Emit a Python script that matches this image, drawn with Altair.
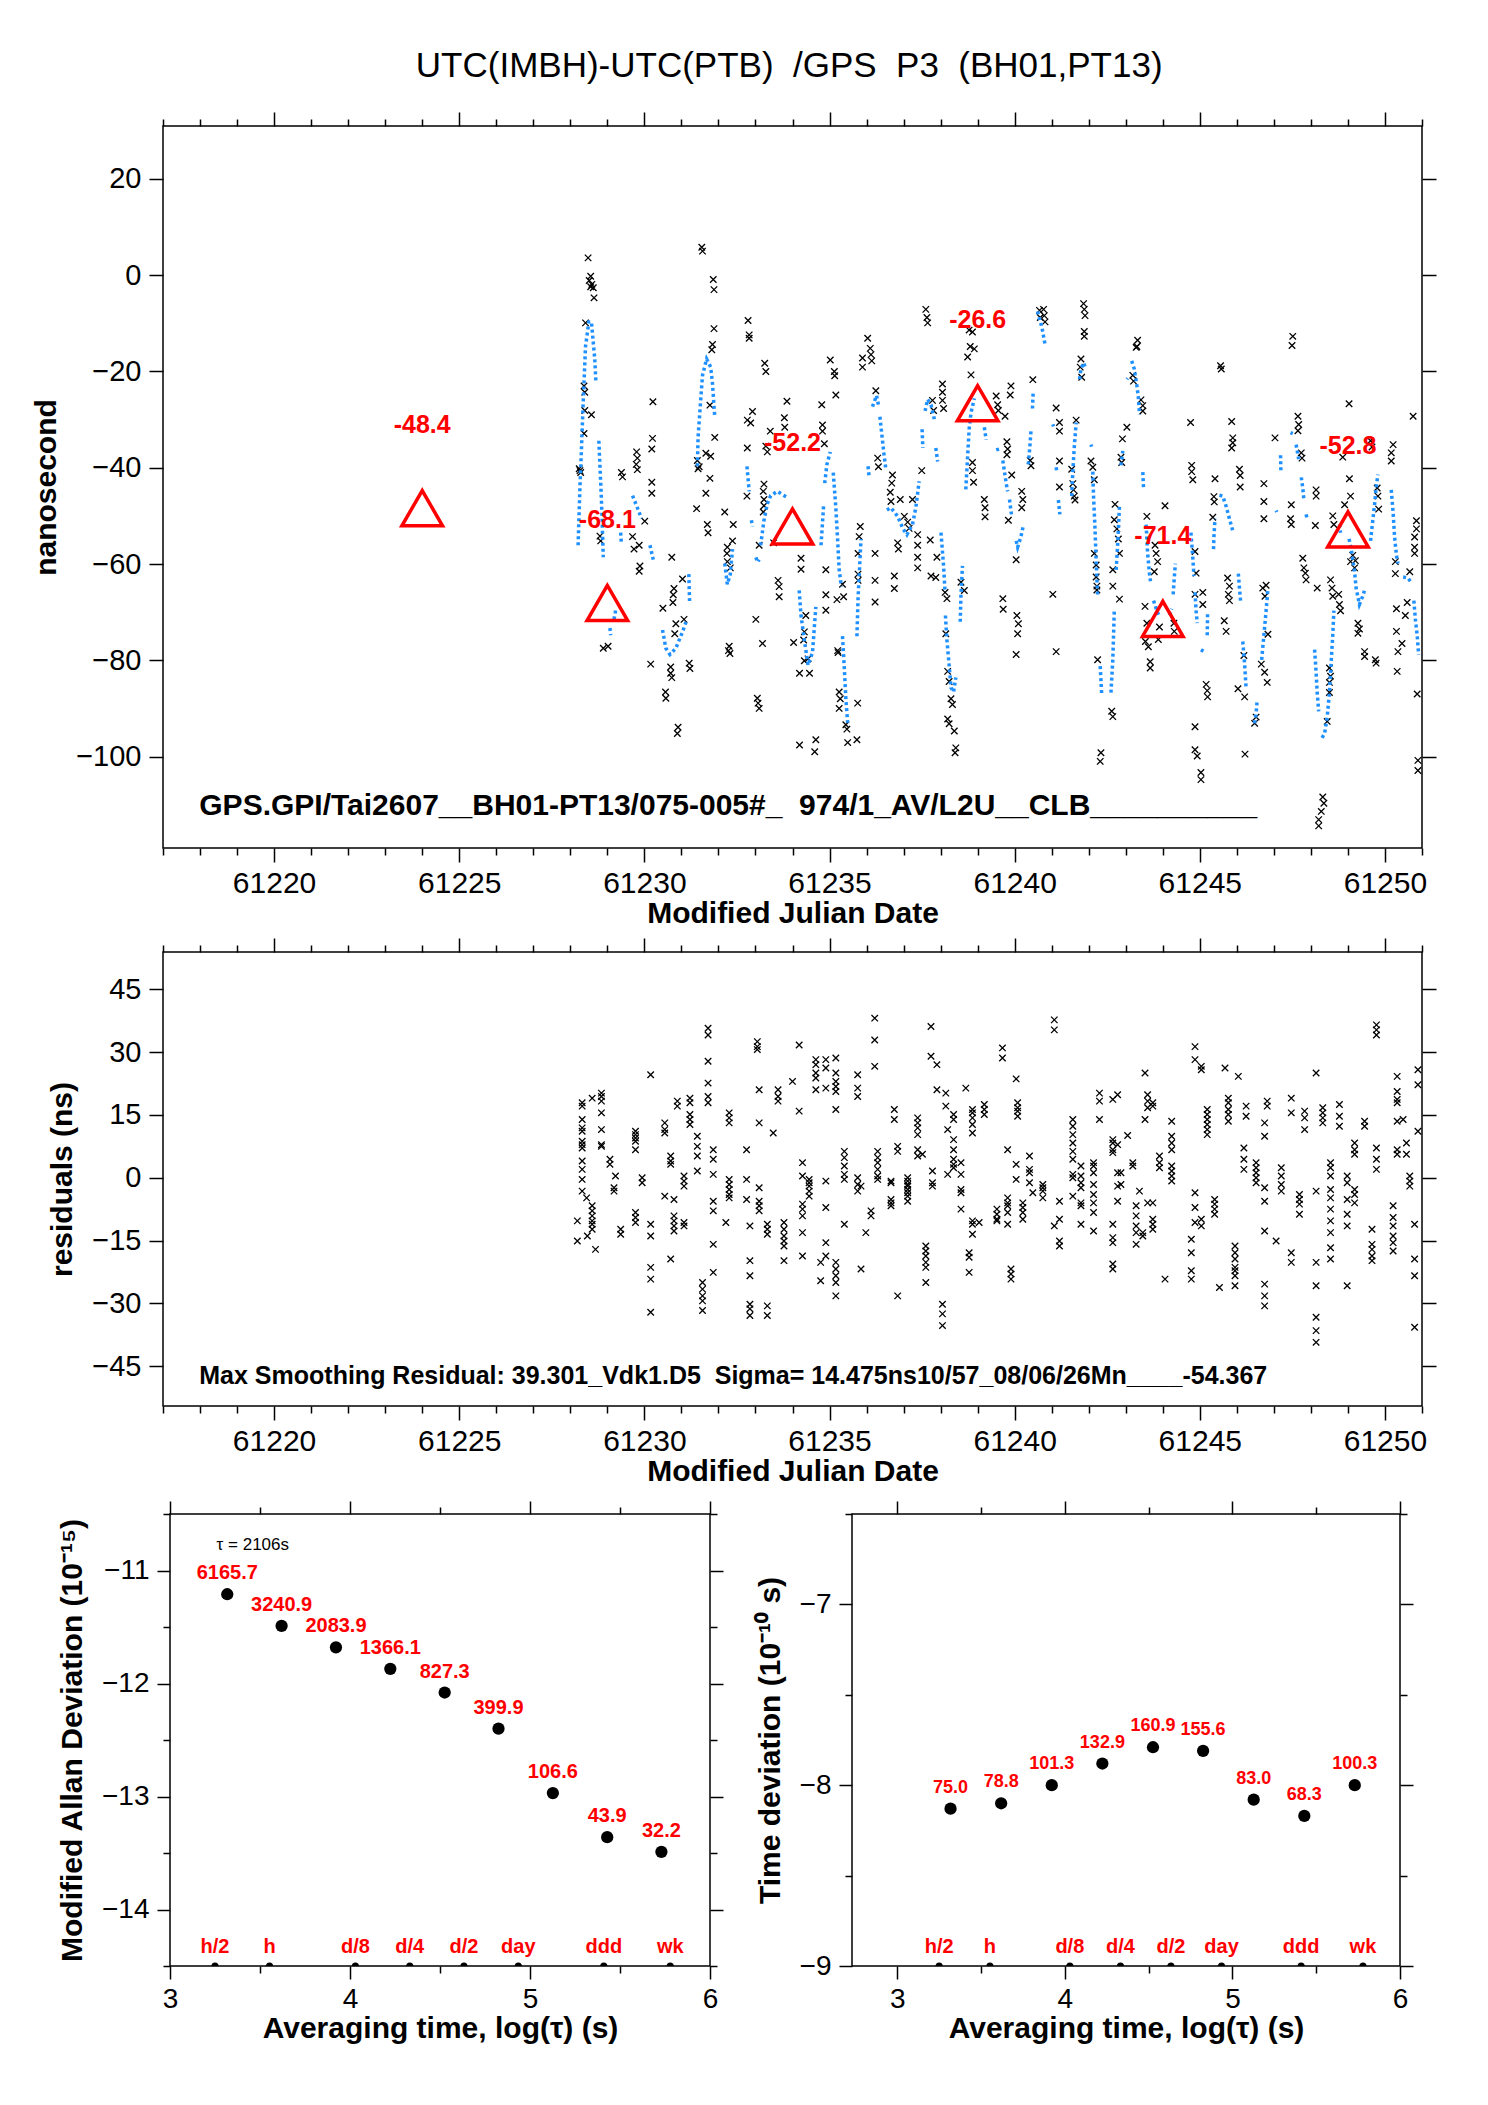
import altair as alt
import pandas as pd

FONT = "Liberation Sans, Arial, Helvetica, sans-serif"
XSHAPE = "M-1,-1L1,1M-1,1L1,-1"
RED = "#ff0000"
BLUE = "#1e90ff"

# ---------------- top panel: raw GPS differences (MJD, ns) ----------------
raw_pts = [
    (61228.48, 3.6), (61228.55, -0.2), (61228.51, -1.1), (61228.58, -1.9), (61228.62, -2.6),
    (61228.55, -2.4), (61228.64, -4.7), (61228.41, -9.9), (61228.37, -23.0), (61228.39, -24.3),
    (61228.39, -28.1), (61228.57, -29.0), (61228.37, -32.9), (61228.26, -40.6), (61228.28, -41.0),
    (61228.24, -40.2), (61228.80, -54.2), (61228.82, -55.2), (61228.89, -77.5), (61229.02, -77.1),
    (61229.38, -41.0), (61229.41, -41.9), (61229.79, -36.7), (61229.81, -38.0), (61229.78, -39.3),
    (61229.81, -40.4), (61229.68, -54.3), (61229.86, -56.1), (61229.72, -56.9), (61229.88, -60.4),
    (61229.86, -61.5), (61230.01, -51.1), (61230.23, -26.3), (61230.22, -33.9), (61230.20, -36.1),
    (61230.20, -43.0), (61230.20, -45.3), (61230.74, -58.6), (61230.50, -69.2), (61231.03, -63.1),
    (61230.80, -65.1), (61230.78, -66.4), (61230.77, -68.0), (61230.85, -72.4), (61230.82, -74.5),
    (61231.07, -71.5), (61230.71, -81.4), (61230.71, -82.7), (61230.74, -83.6), (61230.57, -86.6),
    (61230.58, -87.9), (61230.91, -93.9), (61230.89, -95.2), (61231.21, -80.6), (61231.23, -81.7),
    (61230.17, -80.8), (61231.55, 5.8), (61231.57, 5.0), (61231.86, -0.9), (61231.88, -3.0),
    (61231.88, -11.1), (61231.84, -14.4), (61231.82, -15.5), (61231.77, -27.0), (61231.90, -33.7),
    (61231.66, -37.0), (61231.79, -37.6), (61231.43, -38.5), (61231.48, -39.8), (61231.45, -40.2),
    (61231.77, -42.2), (61231.66, -45.3), (61231.41, -48.5), (61231.70, -51.8), (61231.72, -53.5),
    (61232.17, -49.2), (61232.40, -51.8), (61232.24, -56.5), (61232.23, -57.8), (61232.24, -59.5),
    (61232.32, -60.8), (61232.38, -55.2), (61232.29, -77.1), (61232.27, -78.0), (61232.31, -78.6),
    (61232.80, -9.4), (61232.83, -12.4), (61232.83, -13.1), (61232.92, -28.3), (61232.78, -30.1),
    (61232.87, -30.7), (61232.78, -35.9), (61233.25, -18.3), (61233.28, -20.0), (61233.85, -26.2),
    (61233.78, -29.6), (61233.79, -31.6), (61233.40, -32.4), (61233.28, -35.5), (61233.32, -36.7),
    (61232.77, -45.9), (61233.23, -43.4), (61233.21, -44.9), (61233.23, -46.6), (61233.23, -47.9),
    (61233.21, -49.2), (61233.10, -56.1), (61233.49, -55.6), (61234.23, -58.8), (61234.23, -61.1),
    (61233.61, -63.4), (61233.64, -64.7), (61233.64, -66.8), (61233.01, -71.5), (61233.19, -76.5),
    (61234.03, -76.3), (61233.05, -87.9), (61233.07, -88.9), (61233.10, -90.0), (61234.19, -97.6),
    (61234.36, -70.7), (61234.32, -74.1), (61234.30, -75.8), (61234.32, -80.1), (61234.42, -79.7),
    (61234.46, -82.7), (61234.19, -82.7),
    (61234.63, -96.5), (61234.60, -99.0), (61234.79, -26.9), (61234.81, -31.1), (61234.81, -32.4),
    (61234.86, -35.0), (61235.02, -17.6), (61235.13, -20.0), (61235.14, -20.9), (61235.17, -24.9),
    (61234.90, -61.2), (61234.90, -66.4), (61234.90, -69.6), (61235.20, -67.4), (61235.22, -78.0),
    (61235.23, -78.4), (61235.26, -86.6), (61235.29, -88.0), (61235.26, -90.0), (61235.35, -64.2),
    (61235.38, -66.8), (61235.44, -93.4), (61235.47, -94.3), (61235.49, -97.1), (61235.74, -96.5),
    (61235.76, -88.9), (61235.83, -52.2), (61235.80, -54.3), (61235.77, -57.8), (61235.77, -62.1),
    (61235.77, -63.4), (61236.03, -13.1), (61236.10, -15.2), (61236.12, -16.5), (61236.14, -17.8),
    (61235.89, -17.2), (61235.89, -19.1), (61236.25, -24.0), (61236.23, -57.8), (61236.23, -63.4),
    (61236.23, -67.9), (61236.30, -38.0), (61236.32, -39.8), (61236.70, -41.5), (61236.68, -43.2),
    (61236.64, -45.1), (61236.66, -47.0), (61236.91, -46.6), (61236.84, -55.6), (61236.86, -56.9),
    (61236.75, -62.5), (61236.75, -65.1), (61237.02, -50.1), (61237.11, -51.3), (61237.15, -52.6),
    (61237.24, -46.6), (61237.38, -53.9), (61237.38, -56.1), (61237.38, -58.6), (61237.38, -60.8),
    (61237.49, -40.6), (61237.60, -7.1), (61237.63, -8.8), (61237.65, -9.9), (61237.72, -55.0),
    (61237.74, -62.5), (61237.87, -62.8), (61237.90, -58.6), (61238.05, -22.6), (61238.05, -24.3),
    (61238.05, -26.0), (61238.08, -27.7), (61237.78, -26.0), (61237.81, -28.1), (61238.12, -65.9),
    (61238.17, -67.2), (61238.14, -74.5), (61238.19, -82.3), (61238.23, -84.4), (61238.28, -88.0),
    (61238.32, -89.2), (61238.19, -92.2), (61238.23, -93.2), (61238.37, -94.7), (61238.41, -98.2),
    (61238.39, -99.2), (61238.55, -63.8), (61238.64, -65.5), (61238.77, -11.4), (61238.86, -11.8),
    (61238.80, -14.8), (61238.91, -15.3), (61238.73, -17.0), (61238.82, -20.7), (61238.86, -38.9),
    (61238.86, -40.6), (61238.89, -43.0), (61239.18, -46.6), (61239.20, -48.3), (61239.20, -50.2),
    (61239.50, -25.1), (61239.54, -26.9), (61239.56, -28.1), (61239.74, -29.3), (61239.79, -34.6),
    (61239.81, -36.1), (61239.79, -37.3), (61239.90, -23.0), (61239.88, -24.9), (61239.92, -41.5),
    (61239.83, -50.9), (61240.04, -59.1), (61240.19, -44.9), (61240.22, -46.6), (61240.19, -48.3),
    (61239.68, -67.2), (61239.69, -69.4), (61240.06, -70.7), (61240.10, -72.4), (61240.08, -74.5),
    (61240.04, -78.8), (61240.49, -21.7), (61240.42, -38.5), (61240.44, -39.6), (61240.67, -7.3),
    (61240.69, -8.8),
    (61240.78, -7.1), (61240.80, -8.4), (61240.82, -9.7), (61241.86, -5.9), (61241.88, -7.1),
    (61241.90, -8.4), (61241.88, -11.7), (61241.88, -12.7), (61241.79, -17.4), (61241.77, -19.1),
    (61241.81, -21.2), (61243.32, -13.5), (61243.30, -14.8), (61243.28, -15.0), (61243.19, -20.8),
    (61243.21, -22.0), (61243.41, -25.9), (61243.46, -27.1), (61243.46, -28.2), (61245.56, -18.8),
    (61245.58, -19.5), (61241.12, -27.6), (61241.21, -30.6), (61241.21, -32.4), (61241.66, -30.1),
    (61243.03, -31.6), (61242.91, -34.0), (61242.87, -37.8), (61242.89, -38.9), (61244.75, -30.6),
    (61245.86, -30.4), (61245.89, -33.8), (61245.89, -34.8), (61245.86, -35.9), (61241.21, -38.6),
    (61241.21, -44.0), (61241.54, -40.3), (61241.57, -43.3), (61241.59, -44.6), (61241.61, -45.9),
    (61241.63, -46.7), (61242.06, -38.6), (61242.11, -39.9), (61242.15, -42.5), (61242.15, -57.8),
    (61242.20, -60.2), (61242.20, -62.7), (61242.22, -64.6), (61242.22, -65.4), (61244.78, -39.5),
    (61244.78, -40.8), (61244.81, -42.5), (61245.41, -42.3), (61245.38, -46.0), (61245.39, -47.1),
    (61245.35, -50.3), (61246.07, -40.3), (61246.09, -41.6), (61246.09, -44.0), (61246.73, -43.3),
    (61246.73, -47.0), (61246.73, -50.6), (61247.03, -33.8), (61244.06, -47.9), (61242.71, -47.6),
    (61242.69, -50.8), (61242.76, -52.7), (61242.80, -54.8), (61242.83, -57.8), (61242.65, -61.2),
    (61242.65, -64.6), (61242.83, -67.3), (61243.57, -50.1), (61243.79, -56.1), (61243.82, -57.8),
    (61243.86, -59.5), (61243.77, -61.6), (61241.03, -66.3), (61241.12, -78.2), (61242.24, -79.9),
    (61243.52, -68.8), (61243.57, -72.3), (61243.53, -76.1), (61243.61, -77.2), (61243.66, -80.3),
    (61243.66, -81.6), (61243.91, -73.1), (61243.88, -75.7), (61244.30, -72.3), (61244.31, -74.0),
    (61244.87, -57.4), (61244.90, -61.9), (61244.87, -66.3), (61245.08, -65.9), (61245.08, -68.4),
    (61245.75, -62.9), (61245.80, -64.6), (61245.77, -66.3), (61245.80, -67.6), (61245.66, -71.8),
    (61245.71, -74.0), (61246.70, -65.0), (61246.79, -64.4), (61246.76, -66.7), (61246.84, -74.6),
    (61246.66, -80.8), (61246.75, -82.5), (61246.82, -84.6), (61245.17, -85.0), (61245.20, -86.3),
    (61245.21, -87.6), (61246.03, -85.9), (61246.21, -87.6), (61246.22, -99.5), (61244.87, -93.8),
    (61244.87, -98.6), (61244.93, -99.9), (61245.03, -103.3), (61245.03, -104.8), (61242.33, -99.2),
    (61242.31, -101.0), (61242.62, -90.6), (61242.65, -91.7), (61246.52, -91.8), (61246.48, -93.1),
    (61246.19, -79.0),
    (61247.51, -12.7), (61247.49, -14.6), (61247.65, -29.3), (61247.67, -31.0), (61247.65, -32.3),
    (61247.74, -36.9), (61247.76, -38.0), (61247.47, -47.7), (61247.45, -50.6), (61247.47, -51.8),
    (61248.14, -44.6), (61248.14, -45.9), (61248.12, -52.0), (61247.78, -58.8), (61247.81, -60.8),
    (61247.85, -61.9), (61247.87, -63.3), (61248.17, -65.0), (61248.53, -63.3), (61248.57, -65.0),
    (61248.59, -66.7), (61248.75, -66.3), (61248.77, -68.4), (61248.80, -69.7), (61248.59, -50.0),
    (61248.62, -51.8), (61248.50, -81.6), (61248.53, -83.3), (61248.50, -84.6), (61248.50, -86.7),
    (61248.44, -92.7), (61248.32, -108.4), (61248.35, -109.7), (61248.28, -111.4), (61248.21, -113.1),
    (61248.21, -114.4), (61249.03, -26.7), (61248.86, -37.8), (61249.04, -42.3), (61249.07, -45.9),
    (61248.91, -47.7), (61249.13, -58.2), (61249.20, -59.3), (61249.07, -59.5), (61249.18, -60.8),
    (61249.27, -72.3), (61249.31, -73.5), (61249.27, -74.4), (61249.45, -78.2), (61249.45, -79.2),
    (61249.74, -79.9), (61249.76, -80.6), (61249.61, -34.4), (61249.65, -35.7), (61249.79, -44.2),
    (61249.81, -45.9), (61249.83, -48.6), (61250.22, -35.2), (61250.17, -36.9), (61250.17, -38.6),
    (61250.76, -29.3), (61250.85, -51.0), (61250.85, -52.7), (61250.80, -54.4), (61250.80, -56.5),
    (61250.80, -57.8), (61250.28, -59.5), (61250.28, -62.0), (61250.67, -61.6), (61250.60, -68.0),
    (61250.55, -70.7), (61250.31, -69.3), (61250.31, -74.0), (61250.46, -76.5), (61250.35, -78.2),
    (61250.33, -82.3), (61250.87, -87.0), (61250.89, -100.8), (61250.89, -102.9),
]

# smoothed curve pieces (blue dotted), read vertex by vertex
blue_segs = [
    [(61228.21, -56.1), (61228.26, -44.0), (61228.30, -36.3), (61228.35, -26.0), (61228.41, -14.8),
     (61228.50, -9.7), (61228.57, -9.7), (61228.62, -14.0), (61228.66, -17.4), (61228.69, -22.1)],
    [(61228.77, -34.4), (61228.84, -46.6), (61228.89, -58.6)],
    [(61229.36, -53.5), (61229.38, -55.9)],
    [(61229.07, -73.3), (61229.09, -74.8)],
    [(61229.18, -71.5), (61229.23, -69.4)],
    [(61229.68, -45.8), (61229.81, -48.3), (61229.92, -50.5)],
    [(61230.15, -56.1), (61230.24, -59.1)],
    [(61230.49, -73.7), (61230.58, -77.5), (61230.69, -78.8), (61230.85, -77.5), (61231.03, -74.1), (61231.14, -71.7)],
    [(61231.20, -62.1), (61231.22, -67.7)],
    [(61231.43, -39.7), (61231.45, -33.7), (61231.52, -26.0), (61231.57, -20.8), (61231.68, -17.4),
     (61231.79, -19.1), (61231.84, -22.6), (61231.90, -29.4)],
    [(61232.17, -59.9), (61232.24, -64.2), (61232.32, -62.1), (61232.38, -56.9)],
    [(61232.77, -39.7), (61232.83, -44.9)],
    [(61232.89, -50.9), (61232.92, -52.2)],
    [(61233.01, -58.6), (61233.06, -59.6), (61233.10, -59.1)],
    [(61233.14, -56.1), (61233.23, -50.9), (61233.32, -47.5), (61233.41, -45.8), (61233.59, -44.9), (61233.86, -46.2)],
    [(61234.18, -65.5), (61234.23, -70.7), (61234.32, -75.8), (61234.42, -81.0), (61234.54, -78.4), (61234.63, -68.9)],
    [(61234.77, -56.1), (61234.84, -47.9)],
    [(61234.87, -43.2), (61234.93, -39.3), (61235.02, -36.7)],
    [(61235.10, -41.0), (61235.17, -48.3), (61235.22, -55.2), (61235.26, -61.2), (61235.32, -64.7)],
    [(61235.35, -75.0), (61235.40, -81.8), (61235.44, -87.9), (61235.49, -93.0)],
    [(61235.74, -75.0), (61235.77, -67.2), (61235.83, -57.8), (61235.85, -54.8)],
    [(61236.04, -39.7), (61236.07, -41.9)],
    [(61236.16, -27.3), (61236.27, -25.0), (61236.32, -26.9)],
    [(61236.36, -29.4), (61236.41, -32.9), (61236.47, -37.2), (61236.52, -40.2)],
    [(61236.55, -48.8), (61236.66, -48.3), (61236.84, -50.1), (61236.98, -52.6), (61237.09, -53.9),
     (61237.24, -51.8), (61237.33, -48.3), (61237.42, -42.8)],
    [(61237.50, -32.0), (61237.52, -35.9)],
    [(61237.58, -28.2), (61237.65, -25.8), (61237.74, -26.9), (61237.83, -29.9)],
    [(61237.87, -35.9), (61237.92, -38.7)],
    [(61238.01, -53.5), (61238.08, -60.4), (61238.12, -65.9)],
    [(61238.13, -70.7), (61238.17, -75.8), (61238.23, -81.0), (61238.28, -85.7), (61238.35, -86.6), (61238.41, -83.6)],
    [(61238.53, -72.0), (61238.55, -66.4), (61238.59, -60.4)],
    [(61238.68, -44.5), (61238.73, -37.6), (61238.77, -32.0), (61238.82, -28.6), (61238.91, -25.6)],
    [(61239.18, -31.6), (61239.23, -34.2)],
    [(61239.50, -36.3), (61239.59, -36.1)],
    [(61239.68, -38.5), (61239.77, -43.2), (61239.81, -44.9)],
    [(61239.86, -46.6), (61239.92, -50.1)],
    [(61240.04, -55.2), (61240.08, -56.5), (61240.17, -54.3), (61240.24, -51.8)],
    [(61240.37, -39.3), (61240.42, -34.6), (61240.44, -32.4)],
    [(61240.48, -27.7), (61240.50, -24.3)],
    [(61240.62, -7.5), (61240.67, -9.0), (61240.74, -11.0), (61240.82, -14.4)],
    [(61241.75, -21.6), (61241.79, -19.5), (61241.86, -18.2), (61241.93, -19.5)],
    [(61243.16, -17.8), (61243.23, -19.5), (61243.30, -22.9), (61243.34, -25.4), (61243.37, -28.9)],
    [(61243.03, -21.6), (61243.05, -21.4)],
    [(61241.03, -31.0), (61241.05, -31.4)],
    [(61241.12, -39.9), (61241.14, -40.9)],
    [(61241.18, -46.7), (61241.22, -49.7)],
    [(61241.54, -45.9), (61241.57, -40.8), (61241.61, -35.7), (61241.66, -30.6)],
    [(61242.06, -35.2), (61242.08, -35.6)],
    [(61242.11, -40.8), (61242.13, -45.9), (61242.17, -52.7), (61242.20, -59.5), (61242.24, -66.7)],
    [(61242.87, -39.5), (61242.92, -36.5)],
    [(61242.74, -61.2), (61242.78, -56.1), (61242.80, -52.7), (61242.83, -48.0)],
    [(61242.60, -86.7), (61242.65, -79.9), (61242.67, -74.8), (61242.69, -69.7)],
    [(61242.31, -81.2), (61242.35, -87.1)],
    [(61243.46, -40.9), (61243.48, -44.2)],
    [(61243.55, -51.8), (61243.59, -57.8), (61243.64, -62.0), (61243.68, -64.2)],
    [(61243.75, -67.6), (61243.84, -69.7), (61243.91, -71.0)],
    [(61244.18, -70.6), (61244.24, -69.3)],
    [(61244.28, -66.3), (61244.31, -62.9), (61244.34, -59.9)],
    [(61244.76, -53.5), (61244.81, -58.6), (61244.84, -62.5)],
    [(61244.87, -65.9), (61244.90, -69.7), (61244.93, -72.3)],
    [(61245.20, -74.8), (61245.21, -70.1)],
    [(61245.03, -77.8), (61245.11, -78.2)],
    [(61245.37, -56.9), (61245.38, -54.4), (61245.41, -50.6)],
    [(61245.53, -45.7), (61245.62, -45.9), (61245.71, -48.0), (61245.80, -50.6), (61245.89, -53.1)],
    [(61246.04, -62.0), (61246.07, -65.0), (61246.10, -67.6)],
    [(61246.16, -76.1), (61246.21, -80.8), (61246.25, -85.9)],
    [(61246.67, -79.9), (61246.73, -74.8), (61246.79, -69.7), (61246.84, -65.0)],
    [(61246.48, -93.1), (61246.52, -91.0), (61246.55, -88.3)],
    [(61247.06, -48.9), (61247.08, -49.2)],
    [(61247.18, -37.4), (61247.19, -40.8)],
    [(61247.45, -32.7), (61247.51, -32.9)],
    [(61247.60, -35.2), (61247.67, -38.2)],
    [(61247.74, -42.0), (61247.78, -44.2), (61247.81, -46.6)],
    [(61247.87, -49.7), (61247.90, -50.6)],
    [(61248.10, -77.8), (61248.14, -82.5), (61248.17, -86.7), (61248.21, -90.6)],
    [(61248.30, -96.1), (61248.37, -95.2), (61248.44, -91.8), (61248.50, -86.7), (61248.55, -79.9),
     (61248.59, -74.8), (61248.62, -69.7)],
    [(61248.77, -51.8), (61248.80, -53.5)],
    [(61249.03, -54.8), (61249.09, -56.9), (61249.13, -59.1), (61249.18, -61.6), (61249.22, -65.0),
     (61249.31, -68.4), (61249.40, -66.7), (61249.45, -65.4)],
    [(61249.61, -55.2), (61249.67, -51.0), (61249.72, -47.6), (61249.76, -44.2), (61249.81, -41.4)],
    [(61250.17, -44.6), (61250.22, -49.3), (61250.26, -54.4), (61250.31, -58.2), (61250.35, -59.9)],
    [(61250.49, -62.7), (61250.62, -62.9), (61250.71, -63.9)],
    [(61250.78, -67.6), (61250.82, -71.4), (61250.87, -74.8), (61250.91, -78.9)],
]

tri_day = [61224, 61229, 61234, 61239, 61244, 61249]
tri_val = [-48.4, -68.1, -52.2, -26.6, -71.4, -52.8]
tri_lab = ["-48.4", "-68.1", "-52.2", "-26.6", "-71.4", "-52.8"]

top_note = "GPS.GPI/Tai2607__BH01-PT13/075-005#_\u00a0\u00a0974/1_AV/L2U__CLB__________"
res_note = "Max Smoothing Residual: 39.301_Vdk1.D5\u00a0\u00a0Sigma= 14.475ns10/57_08/06/26Mn____-54.367"

# ---------------- middle panel: residual columns (MJD, [ns ...]) ----------------
res_cols = [
    (61228.32, [17.9, 17.1, 13.9, 11.9, 11.1, 8.7, 7.9, 7.1, 4.0, 2.0, -0.4, -3.2]),
    (61228.19, [-10.3, -15.1]), (61228.44, [-4.8]), (61228.46, [-13.9]),
    (61228.59, [19.0, -6.7, -7.9, -9.1, -10.3, -11.1, -12.3]), (61228.68, [-17.1]),
    (61228.84, [20.2, 19.4, 18.3, 15.5, 11.5, 7.9, 7.5]), (61229.07, [4.4, 3.2]),
    (61229.22, [0.4]), (61229.18, [-2.4, -3.2]), (61229.36, [-12.3, -13.5]),
    (61229.76, [11.1, 10.3, 9.5, 8.7, 6.7, -8.3, -9.5, -10.7]), (61229.94, [0.0, -1.2]),
    (61230.17, [24.6, -11.1, -13.9, -21.4, -24.2, -32.1]), (61230.55, [13.1, 11.5, 10.7, -4.4]),
    (61230.71, [5.2, 4.0, 3.2, -19.4]), (61230.80, [-9.1, -10.3, -11.5, -12.7, -5.2]),
    (61230.89, [18.3, 17.1]), (61231.07, [0.4, -0.8, -2.0, -10.7, -11.5]),
    (61231.23, [19.0, 17.9, 15.1, 13.9, 12.7]), (61231.43, [9.9, 7.5, 5.2, 1.6]),
    (61231.57, [-25.0, -26.6, -28.2, -29.4, -31.7]), (61231.72, [35.7, 34.1, 27.8, 22.6, 19.4, 17.9]),
    (61231.86, [6.7, 4.4, 0.8, -5.6, -7.9, -15.9, -22.6]), (61232.20, [-10.7]),
    (61232.29, [15.5, 14.3, 13.1, -0.4, -1.6, -2.8, -4.0, -4.8]), (61232.76, [6.7, -0.4, -5.2]),
    (61232.85, [-11.5, -19.8, -23.4, -30.2, -31.3, -32.9]), (61233.05, [32.5, 31.3, 30.6]),
    (61233.10, [13.1, 21.0, -2.4, -5.6, -6.7, -7.9]), (61233.32, [-11.1, -12.3, -13.5, -30.6, -32.9]),
    (61233.48, [10.7]), (61233.61, [21.0, 19.4, 18.3]),
    (61233.77, [-10.7, -12.3, -13.9, -15.1, -16.3, -19.8]), (61234.00, [23.0]), (61234.18, [31.7, 15.9]),
    (61234.27, [3.6, 0.4, -6.3, -7.5, -9.1, -13.1, -18.7]), (61234.45, [-0.4, -1.2, -2.0, -3.2, -4.4]),
    (61234.63, [28.2, 27.0, 25.0, 23.8, 21.0]), (61234.90, [28.2, 26.2, 21.4, -0.8, -7.1, -15.5, -18.7]),
    (61234.76, [-20.2, -24.6]),
    (61235.17, [28.6, 25.0, 23.0, 21.8, 20.6, 16.3, -20.2, -21.8, -23.4, -25.0, -28.2]),
    (61235.40, [6.3, 4.8, 2.8, 0.8, -0.4, -11.1]), (61235.76, [24.6, 21.4, 19.4, 0.0, -1.6, -3.2]),
    (61235.85, [-2.0, -21.8]), (61235.98, [-13.1]), (61236.12, [-9.1, -7.9]),
    (61236.22, [38.1, 32.9, 26.6]), (61236.30, [6.3, 4.8, 3.6, 2.0, 0.4, -0.4]),
    (61236.66, [-0.8, -1.2, -5.2, -6.0, -6.7]), (61236.75, [16.3, 13.9]), (61236.84, [7.5, 6.3, -28.2]),
    (61237.11, [0.0, -0.8, -1.6, -2.0, -2.8, -3.6, -4.4, -5.6]),
    (61237.38, [14.3, 13.1, 11.9, 10.3, 6.7, 5.2]), (61237.51, [5.6]),
    (61237.60, [-16.3, -17.5, -18.7, -20.2, -21.4, -25.0]), (61237.74, [36.1, 29.0]),
    (61237.78, [1.6, -1.2, -2.0]), (61237.90, [27.0, 21.0]), (61238.05, [-30.2, -32.5, -35.3]),
    (61238.14, [20.2, 17.1]), (61238.19, [11.5, 0.8]), (61238.35, [9.1, 6.7, 4.4, 3.2, 2.4, 15.1, 13.9]),
    (61238.55, [3.6, 0.8, -2.8, -3.6, -7.5]), (61238.68, [21.4]), (61238.77, [-17.9, -19.0, -22.6]),
    (61238.86, [16.3, 15.5, 14.3, 12.7, 10.7, -10.3, -11.1, -13.5]), (61239.04, [-10.7]),
    (61239.18, [17.5, 16.3, 15.1]), (61239.52, [-7.5, -8.7, -9.9, -10.3]), (61239.67, [31.0, 28.6]),
    (61239.81, [-4.8, -6.0, -6.7, -8.3, -11.1, 6.7]), (61239.90, [-21.8, -23.0, -24.2]),
    (61240.04, [23.6, 3.2, -0.4]), (61240.08, [17.9, 16.7, 15.9, 14.7]), (61240.22, [-6.0, -7.1, -8.3, -9.9]),
    (61240.40, [5.2, 2.0, 1.2, -1.2]), (61240.49, [-3.6]), (61240.76, [-1.6, -2.4, -3.2, -4.8]),
    (61241.07, [37.7, 35.3, -11.5]), (61241.21, [-5.6, -9.9, -15.1, -16.3]),
    (61241.57, [13.9, 12.3, 10.3, 8.3, 6.3, 4.4, 0.8, 0.0, -4.4]),
    (61241.79, [2.8, 0.4, -1.2, -2.4, -6.0, -6.7, -11.1]),
    (61242.13, [3.6, 2.8, 1.2, -1.6, -4.0, -6.0, -8.3, -12.7]), (61242.29, [20.2, 18.3, 13.9]),
    (61242.65, [18.7, 9.1, 8.3, 6.7, 6.0, -11.1, -14.3, -15.5, -20.6, -21.8]),
    (61242.78, [19.8, 7.9, 1.2, -2.0, -5.6]), (61242.87, [1.2, -1.6]), (61243.05, [10.1]),
    (61243.19, [3.6, 2.8]), (61243.28, [-6.7, -9.1, -11.5, -13.1, -15.9]), (61243.37, [-3.2]),
    (61243.46, [-13.1, -13.9]), (61243.52, [25.0, 13.9]), (61243.59, [19.8, 18.3, 16.7, -6.0]),
    (61243.73, [17.9, 17.1, -6.0, -9.9, -11.1, -12.3]), (61243.91, [5.2, 3.6, 2.4]), (61244.06, [-24.2]),
    (61244.24, [13.5, 9.9, 8.3, 6.7, 2.8, 1.6, 0.4, -0.8]), (61244.77, [-14.7, -17.9, -22.2, -24.2]),
    (61244.87, [31.3, 28.2, -3.6, -7.1, -10.7]), (61245.04, [26.6, 25.8, -11.5, -9.9]),
    (61245.20, [16.3, 15.1, 13.9, 12.7, 11.5, 10.3]), (61245.40, [-5.2, -6.3, -7.5, -8.7]),
    (61245.53, [-26.2]), (61245.68, [26.2]), (61245.77, [19.0, 17.9, 16.3, 15.1, 13.5]),
    (61245.95, [-16.3, -17.9, -19.4, -21.4, -22.2, -23.4, -25.8]), (61246.04, [24.2]),
    (61246.19, [7.1, 4.4, 2.0]), (61246.25, [17.1, 14.7]), (61246.52, [3.6, 2.4, 1.2, 0.0, -1.2]),
    (61246.75, [13.1, 9.9, -2.4, -5.6, -12.7, -25.4, -28.2, -30.6]), (61246.82, [18.3, 17.1]),
    (61247.06, [-15.1]), (61247.20, [2.4, 0.4, -1.6, -3.2]), (61247.47, [19.0, 15.5, -17.9, -20.2]),
    (61247.69, [-4.0, -5.2, -6.3, -8.7]), (61247.83, [15.9, 14.3, 11.5]),
    (61248.14, [25.0, -3.2, -20.2, -25.8, -33.3, -36.5, -39.3]), (61248.32, [16.7, 15.5, 14.3, 13.1]),
    (61248.53, [3.6, 2.4, 0.4, -2.8, -4.8, -7.5, -10.3, -13.1, -16.7, -19.4]),
    (61248.77, [17.5, 14.7, 12.3]), (61248.98, [0.4, -1.2, -5.2, -8.7, -11.5, -25.8]),
    (61249.18, [8.3, 6.7, 5.6, -2.8, -4.0, -6.0]), (61249.45, [13.5, 12.3]),
    (61249.65, [-12.3, -15.9, -17.1, -18.7, -19.8]), (61249.77, [36.5, 35.3, 34.1, 7.1, 4.4, 2.0]),
    (61250.22, [-6.7, -9.5, -11.5, -13.9, -15.5, -17.5]),
    (61250.33, [24.2, 20.6, 18.7, 17.9, 13.5, 6.7, 5.6]), (61250.49, [13.9]), (61250.58, [8.3, 5.6]),
    (61250.67, [0.4, -0.8, -2.0]), (61250.80, [-11.1, -19.4, -23.4, -35.7]), (61250.89, [25.8, 22.2, 11.1]),
]

# ---------------- bottom panels ----------------
tau_log = [3.318, 3.620, 3.922, 4.224, 4.526, 4.825, 5.127, 5.429, 5.730]
mdev_val = [-11.21, -11.49, -11.68, -11.87, -12.08, -12.40, -12.97, -13.36, -13.49]
mdev_lab = ["6165.7", "3240.9", "2083.9", "1366.1", "827.3", "399.9", "106.6", "43.9", "32.2"]
tdev_val = [-8.13, -8.10, -8.00, -7.88, -7.79, -7.81, -8.08, -8.17, -8.00]
tdev_lab = ["75.0", "78.8", "101.3", "132.9", "160.9", "155.6", "83.0", "68.3", "100.3"]
mark_log = [3.250, 3.553, 4.030, 4.332, 4.633, 4.935, 5.410, 5.779]
mark_lab = ["h/2", "h", "d/8", "d/4", "d/2", "day", "ddd", "wk"]

# ---------------- frames ----------------
MJD_DOM = [61217, 61251]
TOP_DOM = [-119, 31]
RES_DOM = [-54.5, 53.9]
MDEV_DOM = [-14.5, -10.5]
TDEV_DOM = [-9, -6.5]

TOP_W, TOP_H = 1259, 722
RES_H = 454
BL_W, BR_W, B_H = 540, 548, 452

INT_LABEL = "datum.value % 1 === 0 ? replace(toString(datum.value), '-', '\u2212') : ''"


def cond_tick(test, big, small):
    return {"condition": {"test": test, "value": big}, "value": small}


MJD_VALUES = list(range(61217, 61252))


def mjd_axis(orient, title=None, labels=True):
    kw = dict(orient=orient, values=MJD_VALUES, labelOverlap=False, labelFlush=False,
              tickSize=cond_tick("datum.value % 5 === 0", 14, 7))
    if labels:
        kw.update(labelExpr="datum.value % 5 === 0 ? toString(datum.value) : ''",
                  labelFontSize=30, title=title, labelPadding=6, titlePadding=0)
    else:
        kw.update(labels=False, title=None)
    return alt.Axis(**kw)


def simple_axis(orient, values, title=None, labels=True, size=14, fs=29):
    kw = dict(orient=orient, values=values, labelOverlap=False, labelFlush=False, tickSize=size)
    if labels:
        kw.update(title=title, labelFontSize=fs, titlePadding=14)
    else:
        kw.update(labels=False, title=None)
    return alt.Axis(**kw)


def half_axis(orient, values, title=None, labels=True):
    kw = dict(orient=orient, values=values, labelOverlap=False, labelFlush=False,
              tickSize=cond_tick("datum.value % 1 === 0", 13, 7))
    if labels:
        kw.update(title=title, labelFontSize=28, labelExpr=INT_LABEL)
        if orient == "bottom":
            kw.update(labelPadding=6, titlePadding=0)
        else:
            kw.update(titlePadding=14)
    else:
        kw.update(labels=False, title=None)
    return alt.Axis(**kw)


xs_mjd = alt.Scale(domain=MJD_DOM, nice=False, zero=False)


def mjd_panel(pts_df, yfield, yscale, yvalues, ytitle, extra_layers, w, h):
    base = alt.Chart(pts_df).mark_point(shape=XSHAPE, size=42, filled=False, stroke="black",
                                        strokeWidth=1.3, opacity=1).encode(
        x=alt.X("mjd:Q", scale=xs_mjd, axis=mjd_axis("bottom", "Modified Julian Date")),
        y=alt.Y(f"{yfield}:Q", scale=yscale, axis=simple_axis("left", yvalues, ytitle)),
    )
    mirror = alt.Chart(pts_df).mark_point(opacity=0).encode(
        x=alt.X("mjd:Q", scale=xs_mjd, axis=mjd_axis("top", labels=False)),
        y=alt.Y(f"{yfield}:Q", scale=yscale, axis=simple_axis("right", yvalues, labels=False)),
    )
    return alt.layer(base, mirror, *extra_layers).resolve_axis(
        x="independent", y="independent").properties(width=w, height=h)


# ---- top panel
raw_df = pd.DataFrame(raw_pts, columns=["mjd", "ns"])
blue_df = pd.DataFrame([{"seg": i, "mjd": d, "ns": v}
                        for i, s in enumerate(blue_segs) for d, v in s])
tri_df = pd.DataFrame({"mjd": tri_day, "ns": tri_val, "lab": tri_lab})
top_txt = pd.DataFrame({"mjd": [61217.98], "ns": [-112.1], "txt": [top_note]})
ys_top = alt.Scale(domain=TOP_DOM, nice=False, zero=False)

xn = alt.X("mjd:Q", scale=xs_mjd, axis=None)
yn_top = alt.Y("ns:Q", scale=ys_top, axis=None)

blue = alt.Chart(blue_df).mark_line(color=BLUE, strokeWidth=3.5, strokeDash=[3, 3]).encode(
    x=xn, y=yn_top, detail="seg:N")
tris = alt.Chart(tri_df).mark_point(shape="triangle-up", size=1650, filled=False, stroke=RED,
                                     strokeWidth=3.5, opacity=1).encode(x=xn, y=yn_top)
tri_text = alt.Chart(tri_df).mark_text(dy=-83, color=RED, font=FONT, fontSize=25,
                                       fontWeight="bold").encode(x=xn, y=yn_top, text="lab:N")
note1 = alt.Chart(top_txt).mark_text(align="left", baseline="alphabetic", font=FONT, fontSize=30,
                                     fontWeight="bold", color="black").encode(x=xn, y=yn_top, text="txt:N")

top = mjd_panel(raw_df, "ns", ys_top, list(range(-100, 21, 20)), "nanosecond",
                [blue, tris, tri_text, note1], TOP_W, TOP_H)

# ---- middle panel
res_df = pd.DataFrame([{"mjd": d, "res": v} for d, vals in res_cols for v in vals])
ys_res = alt.Scale(domain=RES_DOM, nice=False, zero=False)
res_txt = pd.DataFrame({"mjd": [61217.98], "res": [-49.3], "txt": [res_note]})
note2 = alt.Chart(res_txt).mark_text(align="left", baseline="alphabetic", font=FONT, fontSize=25,
                                     fontWeight="bold", color="black").encode(
    x=xn, y=alt.Y("res:Q", scale=ys_res, axis=None), text="txt:N")
middle = mjd_panel(res_df, "res", ys_res, list(range(-45, 46, 15)), "residuals (ns)",
                   [note2], TOP_W, RES_H)


# ---- bottom panels
def stab_panel(vals, labs, ydom, yvals, ytitle, xdom, w, lab_fs, show_tau):
    xs = alt.Scale(domain=xdom, nice=False, zero=False)
    ys = alt.Scale(domain=ydom, nice=False, zero=False)
    df = pd.DataFrame({"lt": tau_log, "v": vals, "lab": labs})
    mk = pd.DataFrame({"lt": mark_log, "v": [ydom[0]] * len(mark_log), "lab": mark_lab})
    xvals = [3, 3.5, 4, 4.5, 5, 5.5, 6]
    pts = alt.Chart(df).mark_circle(size=150, color="black", opacity=1).encode(
        x=alt.X("lt:Q", scale=xs, axis=half_axis("bottom", xvals, "Averaging time, log(\u03c4) (s)")),
        y=alt.Y("v:Q", scale=ys, axis=half_axis("left", yvals, ytitle)),
    )
    mirror = alt.Chart(df).mark_point(opacity=0).encode(
        x=alt.X("lt:Q", scale=xs, axis=half_axis("top", xvals, labels=False)),
        y=alt.Y("v:Q", scale=ys, axis=half_axis("right", yvals, labels=False)),
    )
    xn2 = alt.X("lt:Q", scale=xs, axis=None)
    yn2 = alt.Y("v:Q", scale=ys, axis=None)
    labs_l = alt.Chart(df).mark_text(dy=-21, color=RED, font=FONT, fontSize=lab_fs,
                                     fontWeight="bold").encode(x=xn2, y=yn2, text="lab:N")
    mk_dots = alt.Chart(mk).mark_circle(size=50, color="black", opacity=1, clip=True).encode(x=xn2, y=yn2)
    mk_text = alt.Chart(mk).mark_text(dy=-19, color=RED, font=FONT, fontSize=20,
                                      fontWeight="bold").encode(x=xn2, y=yn2, text="lab:N")
    layers = [pts, mirror, labs_l, mk_dots, mk_text]
    if show_tau:
        tau_df = pd.DataFrame({"lt": [3.46], "v": [-10.77], "lab": ["\u03c4 = 2106s"]})
        layers.append(alt.Chart(tau_df).mark_text(font=FONT, fontSize=17, color="black").encode(
            x=xn2, y=yn2, text="lab:N"))
    return alt.layer(*layers).resolve_axis(x="independent", y="independent").properties(
        width=w, height=B_H)


left = stab_panel(mdev_val, mdev_lab, MDEV_DOM, [-14.5, -14, -13.5, -13, -12.5, -12, -11.5, -11, -10.5],
                  "Modified Allan Deviation (10\u207b\u00b9\u2075)", [3, 6], BL_W, 20, True)
right = stab_panel(tdev_val, tdev_lab, TDEV_DOM, [-9, -8.5, -8, -7.5, -7, -6.5],
                   "Time deviation (10\u207b\u00b9\u2070 s)", [2.73, 6], BR_W, 18, False)

spacer = alt.Chart(pd.DataFrame({"a": [0]})).mark_point(opacity=0).properties(
    width=1, height=B_H, view=alt.ViewBackground(stroke="transparent"))

bottom_row = alt.hconcat(spacer, alt.hconcat(left, right, spacing=142, bounds="flush"),
                         spacing=6, bounds="flush")

chart = alt.vconcat(
    top,
    alt.vconcat(middle, bottom_row, spacing=108, bounds="flush"),
    spacing=104, bounds="flush",
    title=alt.TitleParams(text="UTC(IMBH)-UTC(PTB) \u00a0/GPS \u00a0P3 \u00a0(BH01,PT13)", font=FONT,
                          fontSize=35, fontWeight="normal", color="black", anchor="middle",
                          dx=55, offset=27),
    padding={"left": 22, "top": 40, "right": 10, "bottom": 10},
).configure_view(stroke="black", strokeWidth=1.5).configure_axis(
    grid=False, domain=False, tickColor="black", tickWidth=1.5, labelColor="black",
    titleColor="black", labelFont=FONT, titleFont=FONT, titleFontSize=30, titleFontWeight="bold",
    labelPadding=8, titlePadding=6,
).configure_title(font=FONT)

chart.save("out.html", embed_options={"renderer": "svg", "actions": False})
